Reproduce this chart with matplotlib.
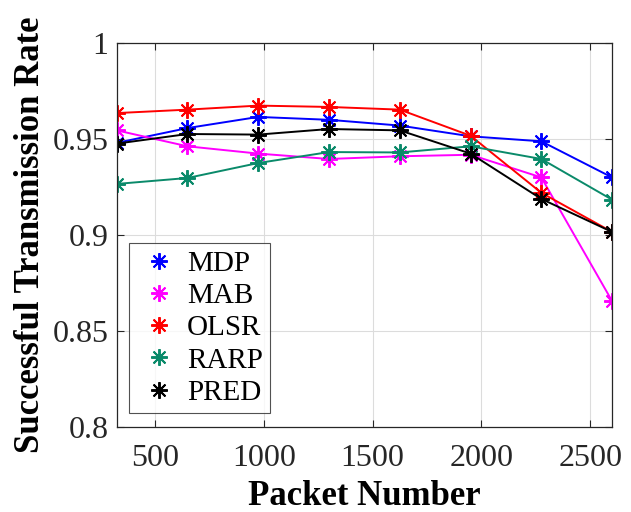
import numpy as np
import matplotlib
matplotlib.use('Agg')
import matplotlib.pyplot as plt

plt.rcParams['font.family'] = ['Liberation Serif', 'DejaVu Serif']
plt.rcParams['mathtext.fontset'] = 'stix'

packets = [325, 650, 975, 1300, 1625, 1950, 2275, 2600]
mdp  = [0.948, 0.9557, 0.9615, 0.9600, 0.9570, 0.9514, 0.9488, 0.9300]
mab  = [0.9545, 0.9462, 0.9424, 0.9396, 0.9410, 0.9418, 0.9300, 0.8656]
olsr = [0.9635, 0.9653, 0.9674, 0.9667, 0.9653, 0.9517, 0.9220, 0.9016]
rarp = [0.9266, 0.9297, 0.9375, 0.9432, 0.9430, 0.9462, 0.9396, 0.9184]
pred = [0.9476, 0.9526, 0.9523, 0.9552, 0.9545, 0.9424, 0.9188, 0.9016]

series = [("MDP", mdp, "#0000ff"), ("MAB", mab, "#ff00ff"), ("OLSR", olsr, "#ff0000"),
          ("RARP", rarp, "#0a8a6a"), ("PRED", pred, "#000000")]

fig = plt.figure(figsize=(6.31, 5.12), dpi=100)
ax = fig.add_axes([0.185, 0.166, 0.785, 0.750])

for name, vals, c in series:
    ax.plot(packets, vals, color=c, lw=1.4, marker=(8, 2, 0), ms=12, mew=1.4, label=name)

ax.set_xlim(325, 2600)
ax.set_ylim(0.8, 1.0)
ax.set_xticks([500, 1000, 1500, 2000, 2500])
ax.set_yticks([0.8, 0.85, 0.9, 0.95, 1.0])
ax.set_yticklabels(["0.8", "0.85", "0.9", "0.95", "1"])
ax.grid(True, color='#dcdcdc', lw=0.8)
ax.set_axisbelow(True)
ax.tick_params(direction='in', top=True, right=True, labelsize=23, length=5, width=0.8,
               colors='#262626')
ax.tick_params(axis='x', pad=12)
ax.tick_params(axis='y', pad=6)
for sp in ax.spines.values():
    sp.set_color('#262626'); sp.set_linewidth(0.9)

ax.set_xlabel("Packet Number", fontsize=25, fontweight='bold', labelpad=5)
ax.set_ylabel("Successful Transmission Rate", fontsize=25, fontweight='bold', labelpad=4)

# legend shows markers only
handles = [plt.Line2D([], [], ls='none', marker=(8, 2, 0), ms=12, mew=1.4, color=c) for _, _, c in series]
leg = ax.legend(handles, [s[0] for s in series], loc='lower left', bbox_to_anchor=(0.024, 0.036),
                borderaxespad=0, fontsize=21, fancybox=False, edgecolor='#262626',
                handletextpad=0.15, labelspacing=0.2, borderpad=0.25, handlelength=1.6)
leg.get_frame().set_linewidth(0.8)

plt.savefig("out.png", dpi=100)
plt.close()
